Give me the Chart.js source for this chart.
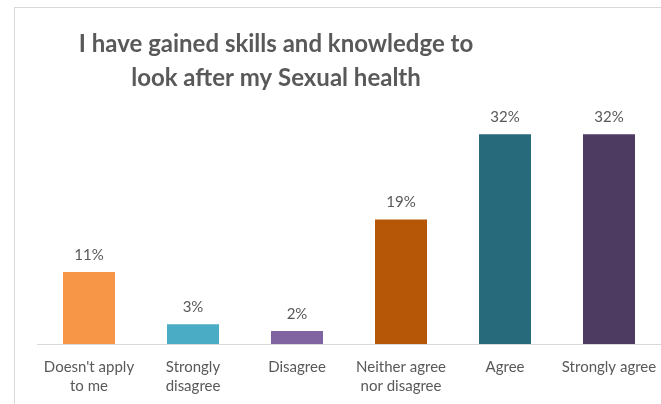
<!DOCTYPE html>
<html>
<head>
<meta charset="utf-8">
<script src="https://cdn.jsdelivr.net/npm/chart.js@4"></script>
<style>
  html, body { margin: 0; padding: 0; background: #fff; }
  #wrap { width: 661px; height: 404px; position: relative; }
</style>
</head>
<body>
<div id="wrap"><canvas id="chart" width="661" height="404"></canvas></div>
<script>
var categories = [["Doesn't apply", "to me"], ["Strongly", "disagree"], "Disagree", ["Neither agree", "nor disagree"], "Agree", "Strongly agree"];
var percentages = [11, 3, 2, 19, 32, 32];
var barColors = ["#F79646", "#4BACC6", "#8064A2", "#B65708", "#276A7C", "#4D3B62"];
var titleLines = ["I have gained skills and knowledge to", "look after my Sexual health"];

var fontFamily = "Lato, 'Open Sans', sans-serif";
var textColor = "#595959";

// frame + title; the original chart is wider than the crop so the title
// sits left of the canvas centre
var framePlugin = {
    id: 'frame',
    beforeDraw: function (chart) {
        var ctx = chart.ctx;
        ctx.save();
        ctx.fillStyle = '#fff';
        ctx.fillRect(0, 0, chart.width, chart.height);
        ctx.strokeStyle = '#D9D9D9';
        ctx.lineWidth = 1;
        ctx.strokeRect(14.5, 7.5, 800, 600);

        ctx.fillStyle = textColor;
        ctx.font = "bold 24px " + fontFamily;
        ctx.textAlign = 'center';
        ctx.textBaseline = 'middle';
        ctx.fillText(titleLines[0], 276, 44);
        ctx.fillText(titleLines[1], 276, 78);
        ctx.restore();
    }
};

// percentage labels above each bar
var valueLabels = {
    id: 'valueLabels',
    afterDatasetsDraw: function (chart) {
        var ctx = chart.ctx;
        var meta = chart.getDatasetMeta(0);
        ctx.save();
        ctx.fillStyle = textColor;
        ctx.font = "15px " + fontFamily;
        ctx.textAlign = 'center';
        ctx.textBaseline = 'middle';
        meta.data.forEach(function (bar, i) {
            ctx.fillText(percentages[i] + '%', bar.x, bar.y - 17);
        });
        ctx.restore();
    }
};

new Chart(document.getElementById('chart').getContext('2d'), {
    type: 'bar',
    data: {
        labels: categories,
        datasets: [{
            data: percentages,
            backgroundColor: barColors,
            categoryPercentage: 1,
            barPercentage: 0.5
        }]
    },
    options: {
        responsive: false,
        animation: false,
        layout: { padding: { left: 37, right: 0, top: 108, bottom: 0 } },
        plugins: {
            legend: { display: false },
            tooltip: { enabled: false },
            title: { display: false }
        },
        scales: {
            x: {
                grid: { display: false },
                border: { display: true, color: '#D9D9D9', width: 1 },
                ticks: {
                    color: textColor,
                    font: { family: fontFamily, size: 15, lineHeight: 1.3 },
                    padding: 5,
                    maxRotation: 0,
                    autoSkip: false
                },
                afterFit: function (scale) {
                    scale.height = 60;
                    scale.paddingLeft = 0;
                    scale.paddingRight = 0;
                }
            },
            y: {
                display: false,
                min: 0,
                max: 36
            }
        }
    },
    plugins: [framePlugin, valueLabels]
});
</script>
</body>
</html>
